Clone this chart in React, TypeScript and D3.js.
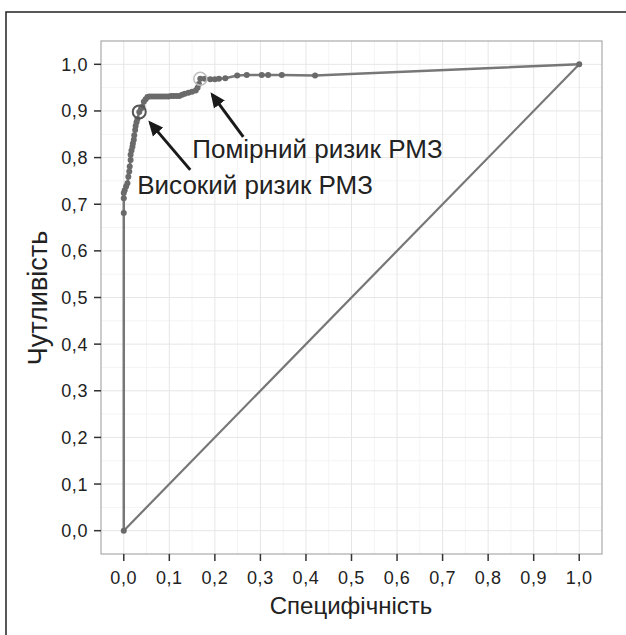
import * as d3 from 'd3';

const specificity = [
  0, 0, 0, 0, 0.002, 0.005, 0.008, 0.01, 0.012, 0.013, 0.015, 0.015, 0.017, 0.019, 0.02,
  0.022, 0.023, 0.025, 0.026, 0.028, 0.03, 0.034, 0.038, 0.041, 0.044, 0.048, 0.052, 0.056,
  0.062, 0.068, 0.074, 0.08, 0.086, 0.092, 0.098, 0.104, 0.11, 0.116, 0.122, 0.128, 0.134,
  0.142, 0.15, 0.158, 0.162, 0.165, 0.168, 0.178, 0.19, 0.2, 0.209, 0.223, 0.249, 0.27,
  0.303, 0.317, 0.347, 0.42, 1.0,
];
const sensitivity = [
  0, 0.681, 0.713, 0.724, 0.73, 0.738, 0.745, 0.759, 0.77, 0.781, 0.795, 0.806, 0.815,
  0.823, 0.83, 0.838, 0.848, 0.859, 0.868, 0.876, 0.883, 0.898, 0.905, 0.909, 0.92, 0.925,
  0.93, 0.931, 0.931, 0.931, 0.931, 0.931, 0.931, 0.931, 0.931, 0.932, 0.932, 0.932, 0.932,
  0.935, 0.937, 0.939, 0.941, 0.944, 0.95, 0.958, 0.969, 0.969, 0.968, 0.968, 0.969, 0.97,
  0.976, 0.977, 0.977, 0.977, 0.977, 0.976, 1.0,
];
const ticks = [0, 0.1, 0.2, 0.3, 0.4, 0.5, 0.6, 0.7, 0.8, 0.9, 1.0];
const minorTicks = [0.05, 0.15, 0.25, 0.35, 0.45, 0.55, 0.65, 0.75, 0.85, 0.95];
const highRisk = { x: 0.034, y: 0.898, label: 'Високий ризик РМЗ' };
const moderateRisk = { x: 0.168, y: 0.969, label: 'Помірний ризик РМЗ' };

const font = 'Liberation Sans, Arial, sans-serif';

export default function App() {
  const width = 626;
  const height = 635;
  const left = 101;
  const right = 602;
  const top = 41;
  const bottom = 554;

  const x = d3.scaleLinear().domain([-0.05, 1.05]).range([left, right]);
  const y = d3.scaleLinear().domain([-0.05, 1.05]).range([bottom, top]);
  const fmt = (v: number) => v.toFixed(1).replace('.', ',');

  const points = specificity.map((s, i) => [s, sensitivity[i]] as [number, number]);
  const line = d3
    .line<[number, number]>()
    .x((d) => x(d[0]))
    .y((d) => y(d[1]));

  return (
    <svg width={width} height={height} style={{ position: 'absolute', left: 0, top: 0 }}>
      <defs>
        <marker id="arrow" viewBox="0 0 10 10" refX="8" refY="5" markerWidth="5" markerHeight="5"
          orient="auto" markerUnits="strokeWidth">
          <path d="M0,0.5 L10,5 L0,9.5 Z" fill="#1a1a1a" />
        </marker>
      </defs>
      <rect x={0} y={0} width={width} height={height} fill="#fff" />
      <rect x={6} y={12} width={width + 10} height={height + 10} fill="none" stroke="#222" strokeWidth={1.5} />

      {minorTicks.map((t) => (
        <g key={'m' + t}>
          <line x1={x(t)} x2={x(t)} y1={top} y2={bottom} stroke="#f4f4f4" strokeWidth={1} />
          <line x1={left} x2={right} y1={y(t)} y2={y(t)} stroke="#f4f4f4" strokeWidth={1} />
        </g>
      ))}
      {ticks.map((t) => (
        <g key={'g' + t}>
          <line x1={x(t)} x2={x(t)} y1={top} y2={bottom} stroke="#e6e6e6" strokeWidth={1} />
          <line x1={left} x2={right} y1={y(t)} y2={y(t)} stroke="#e6e6e6" strokeWidth={1} />
        </g>
      ))}
      <rect x={left} y={top} width={right - left} height={bottom - top} fill="none" stroke="#aaa" strokeWidth={1.2} />

      <line x1={x(0)} y1={y(0)} x2={x(1)} y2={y(1)} stroke="#777" strokeWidth={2.2} />
      <path d={line(points) ?? ''} fill="none" stroke="#777" strokeWidth={2.5} />
      {points.map((d, i) => (
        <circle key={i} cx={x(d[0])} cy={y(d[1])} r={3} fill="#6a6a6a" />
      ))}

      <circle cx={x(highRisk.x)} cy={y(highRisk.y)} r={6.5} fill="none" stroke="#555" strokeWidth={2} />
      <circle cx={x(moderateRisk.x)} cy={y(moderateRisk.y)} r={6.5} fill="none" stroke="#bdbdbd" strokeWidth={1.5} />

      <line x1={x(highRisk.x) + 51} y1={y(highRisk.y) + 58} x2={x(highRisk.x) + 11} y2={y(highRisk.y) + 11}
        stroke="#1a1a1a" strokeWidth={3} markerEnd="url(#arrow)" />
      <line x1={x(moderateRisk.x) + 43} y1={y(moderateRisk.y) + 58} x2={x(moderateRisk.x) + 12} y2={y(moderateRisk.y) + 16}
        stroke="#1a1a1a" strokeWidth={3} markerEnd="url(#arrow)" />
      <text x={x(highRisk.x) - 2} y={y(highRisk.y) + 82} fontFamily={font} fontSize={26} fill="#222">
        {highRisk.label}
      </text>
      <text x={x(moderateRisk.x) - 8} y={y(moderateRisk.y) + 79} fontFamily={font} fontSize={26} fill="#222">
        {moderateRisk.label}
      </text>

      {ticks.map((t) => (
        <g key={'x' + t}>
          <line x1={x(t)} x2={x(t)} y1={bottom} y2={bottom + 7} stroke="#333" strokeWidth={1.5} />
          <text x={x(t)} y={bottom + 30} textAnchor="middle" fontFamily={font} fontSize={18}
            letterSpacing={0.6} fill="#222">
            {fmt(t)}
          </text>
        </g>
      ))}
      {ticks.map((t) => (
        <g key={'y' + t}>
          <line x1={left - 7} x2={left} y1={y(t)} y2={y(t)} stroke="#333" strokeWidth={1.5} />
          <text x={left - 13} y={y(t) + 6.5} textAnchor="end" fontFamily={font} fontSize={18}
            letterSpacing={0.6} fill="#222">
            {fmt(t)}
          </text>
        </g>
      ))}

      <text x={351} y={614} textAnchor="middle" fontFamily={font} fontSize={24} fill="#222">
        Специфічність
      </text>
      <text transform={`translate(47,298) rotate(-90)`} textAnchor="middle"
        fontFamily={font} fontSize={27} fill="#222">
        Чутливість
      </text>
    </svg>
  );
}
